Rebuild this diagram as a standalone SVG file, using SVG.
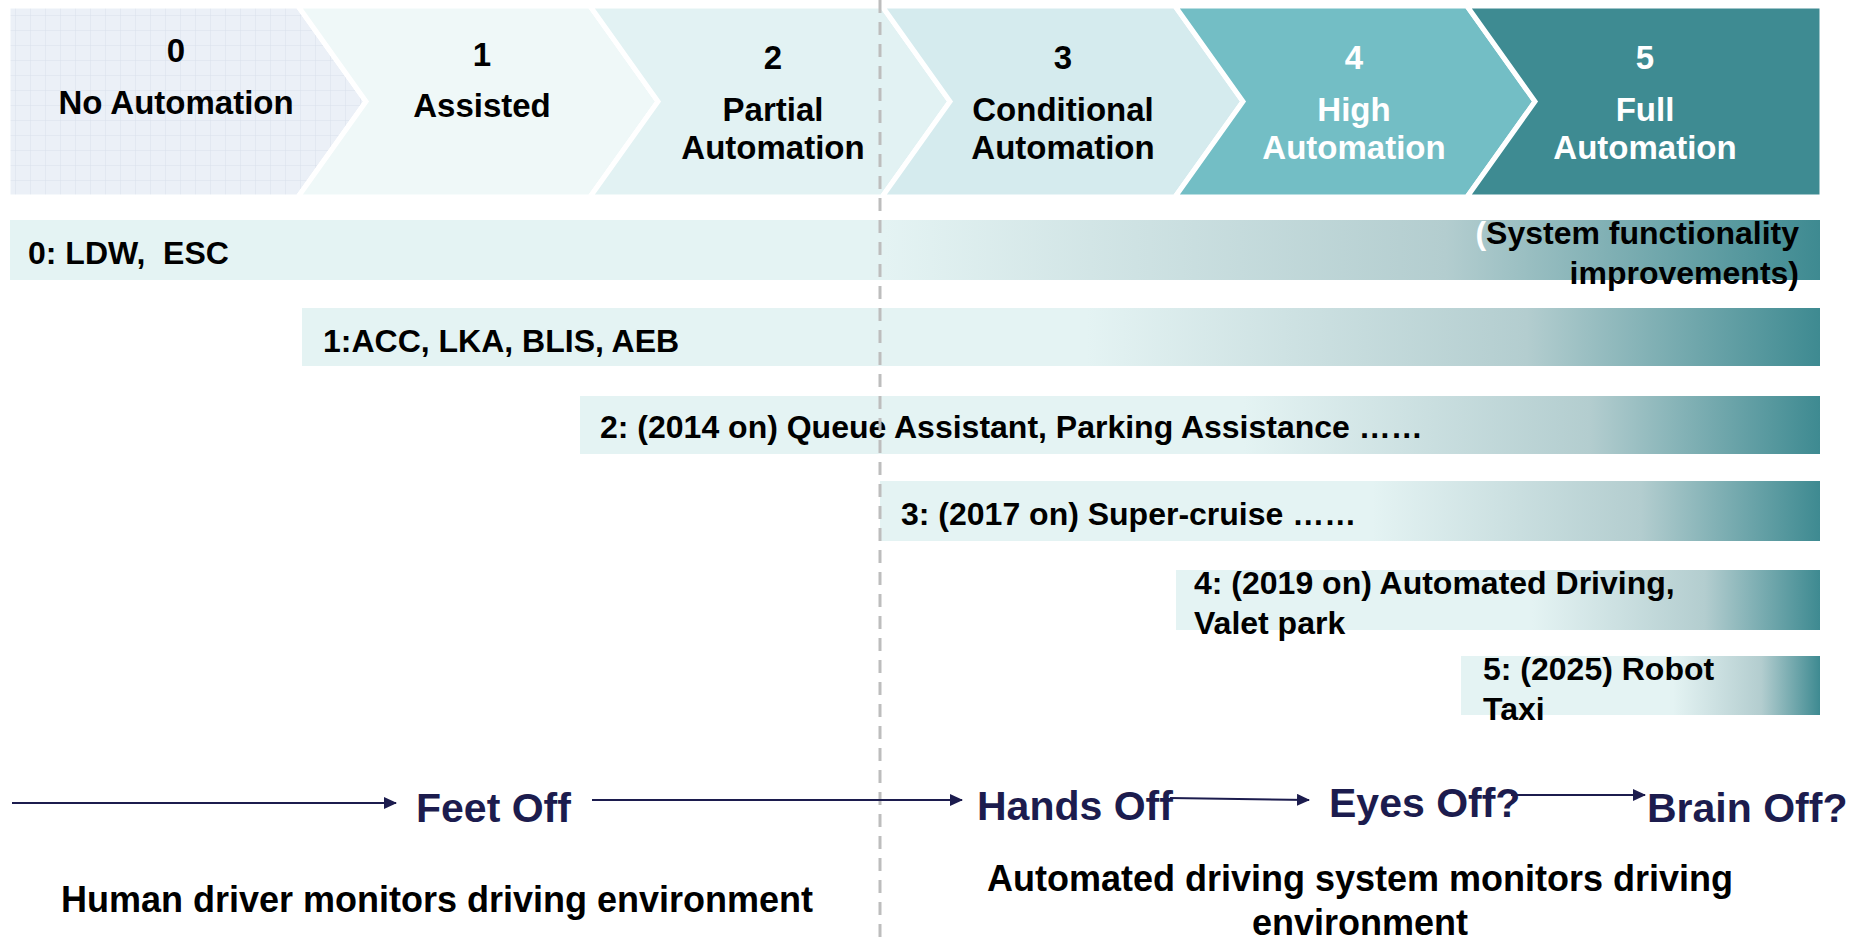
<svg xmlns="http://www.w3.org/2000/svg" width="1863" height="942" viewBox="0 0 1863 942">
<style>
text{font-family:"Liberation Sans",Arial,sans-serif;font-weight:bold;}
.hd{font-size:33px;text-anchor:middle;fill:#000;}
.hw{font-size:33px;text-anchor:middle;fill:#fff;}
.bt{font-size:32px;fill:#000;}
.ms{font-size:41px;fill:#1c1c4e;}
.mon{font-size:36px;fill:#000;text-anchor:middle;}
.chev{stroke:#fff;stroke-width:5;stroke-linejoin:miter;}
.conn{stroke:#1c1c4e;stroke-width:2;fill:none;marker-end:url(#ah);}
</style>
<defs>
<marker id="ah" markerUnits="userSpaceOnUse" markerWidth="13" markerHeight="12" refX="12" refY="6" orient="auto">
<path d="M0,0 L13,6 L0,12 z" fill="#1c1c4e"/>
</marker>
<pattern id="grid" patternUnits="userSpaceOnUse" width="15" height="15">
<rect width="15" height="15" fill="#ebf0f7"/>
<path d="M15,0 L0,0 0,15" fill="none" stroke="#d9e1ec" stroke-width="1"/>
</pattern>
<linearGradient id="g0" gradientUnits="userSpaceOnUse" x1="885" y1="0" x2="1820" y2="0">
<stop offset="0" stop-color="#e4f3f3"/><stop offset="0.6" stop-color="#b3cdcf"/><stop offset="1" stop-color="#3e8a91"/></linearGradient>
<linearGradient id="g1" gradientUnits="userSpaceOnUse" x1="1087" y1="0" x2="1820" y2="0">
<stop offset="0" stop-color="#e4f3f3"/><stop offset="0.6" stop-color="#b3cdcf"/><stop offset="1" stop-color="#3e8a91"/></linearGradient>
<linearGradient id="g2" gradientUnits="userSpaceOnUse" x1="1244" y1="0" x2="1820" y2="0">
<stop offset="0" stop-color="#e4f3f3"/><stop offset="0.6" stop-color="#b3cdcf"/><stop offset="1" stop-color="#3e8a91"/></linearGradient>
<linearGradient id="g3" gradientUnits="userSpaceOnUse" x1="1372" y1="0" x2="1820" y2="0">
<stop offset="0" stop-color="#e4f3f3"/><stop offset="0.6" stop-color="#b3cdcf"/><stop offset="1" stop-color="#3e8a91"/></linearGradient>
<linearGradient id="g4" gradientUnits="userSpaceOnUse" x1="1532" y1="0" x2="1820" y2="0">
<stop offset="0" stop-color="#e4f3f3"/><stop offset="0.6" stop-color="#b3cdcf"/><stop offset="1" stop-color="#3e8a91"/></linearGradient>
<linearGradient id="g5" gradientUnits="userSpaceOnUse" x1="1673" y1="0" x2="1820" y2="0">
<stop offset="0" stop-color="#e4f3f3"/><stop offset="0.6" stop-color="#b3cdcf"/><stop offset="1" stop-color="#3e8a91"/></linearGradient>
</defs>
<rect width="1863" height="942" fill="#fff"/>

<g id="level0">
<polygon class="chev" points="8,6 298,6 366,101.5 298,197 8,197" fill="url(#grid)"/>
<text class="hd" x="176" y="62">0</text>
<text class="hd" x="176" y="114">No Automation</text>
</g>
<g id="level1">
<polygon class="chev" points="298,6 590,6 658,101.5 590,197 298,197 366,101.5" fill="#eff8f8"/>
<text class="hd" x="482" y="66">1</text>
<text class="hd" x="482" y="117">Assisted</text>
</g>
<g id="level2">
<polygon class="chev" points="590,6 882,6 950,101.5 882,197 590,197 658,101.5" fill="#e2f2f3"/>
<text class="hd" x="773" y="69">2</text>
<text class="hd" x="773" y="121">Partial</text>
<text class="hd" x="773" y="159">Automation</text>
</g>
<g id="level3">
<polygon class="chev" points="882,6 1175,6 1243,101.5 1175,197 882,197 950,101.5" fill="#d5ebee"/>
<text class="hd" x="1063" y="69">3</text>
<text class="hd" x="1063" y="121">Conditional</text>
<text class="hd" x="1063" y="159">Automation</text>
</g>
<g id="level4">
<polygon class="chev" points="1175,6 1467,6 1535,101.5 1467,197 1175,197 1243,101.5" fill="#73bec5"/>
<text class="hw" x="1354" y="69">4</text>
<text class="hw" x="1354" y="121">High</text>
<text class="hw" x="1354" y="159">Automation</text>
</g>
<g id="level5">
<polygon class="chev" points="1467,6 1822,6 1822,197 1467,197 1535,101.5" fill="#3e8b92"/>
<text class="hw" x="1645" y="69">5</text>
<text class="hw" x="1645" y="121">Full</text>
<text class="hw" x="1645" y="159">Automation</text>
</g>

<g id="bar0">
<rect x="10" y="220" width="1810" height="60" fill="url(#g0)"/>
<text class="bt" x="28" y="264" xml:space="preserve">0: LDW,  ESC</text>
<text class="bt" x="1799" y="244" text-anchor="end"><tspan fill="#fff">(</tspan>System functionality</text>
<text class="bt" x="1799" y="284" text-anchor="end">improvements)</text>
</g>
<g id="bar1">
<rect x="302" y="308" width="1518" height="58" fill="url(#g1)"/>
<text class="bt" x="323" y="352">1:ACC, LKA, BLIS, AEB</text>
</g>
<g id="bar2">
<rect x="580" y="396" width="1240" height="58" fill="url(#g2)"/>
<text class="bt" x="600" y="438">2: (2014 on) Queue Assistant, Parking Assistance ……</text>
</g>
<g id="bar3">
<rect x="880" y="481" width="940" height="60" fill="url(#g3)"/>
<text class="bt" x="901" y="525">3: (2017 on) Super-cruise ……</text>
</g>
<g id="bar4">
<rect x="1176" y="570" width="644" height="60" fill="url(#g4)"/>
<text class="bt" x="1194" y="594">4: (2019 on) Automated Driving,</text>
<text class="bt" x="1194" y="634">Valet park</text>
</g>
<g id="bar5">
<rect x="1461" y="656" width="359" height="59" fill="url(#g5)"/>
<text class="bt" x="1483" y="680">5: (2025) Robot</text>
<text class="bt" x="1483" y="720">Taxi</text>
</g>

<g id="divider">
<line x1="880" y1="0" x2="880" y2="942" stroke="#bdbdbd" stroke-width="3" stroke-dasharray="13,9"/>
</g>

<g id="connectors">
<line class="conn" x1="12" y1="803" x2="396" y2="803"/>
<line class="conn" x1="592" y1="800" x2="962" y2="800"/>
<line class="conn" x1="1170" y1="798" x2="1309" y2="800"/>
<line class="conn" x1="1511" y1="795" x2="1645" y2="795"/>
</g>

<g id="feetoff"><text class="ms" x="416" y="822">Feet Off</text></g>
<g id="handsoff"><text class="ms" x="977" y="820">Hands Off</text></g>
<g id="eyesoff"><text class="ms" x="1329" y="817">Eyes Off?</text></g>
<g id="brainoff"><text class="ms" x="1647" y="822">Brain Off?</text></g>

<g id="human">
<text class="mon" x="437" y="912">Human driver monitors driving environment</text>
</g>
<g id="automated">
<text class="mon" x="1360" y="891">Automated driving system monitors driving</text>
<text class="mon" x="1360" y="935">environment</text>
</g>
</svg>
